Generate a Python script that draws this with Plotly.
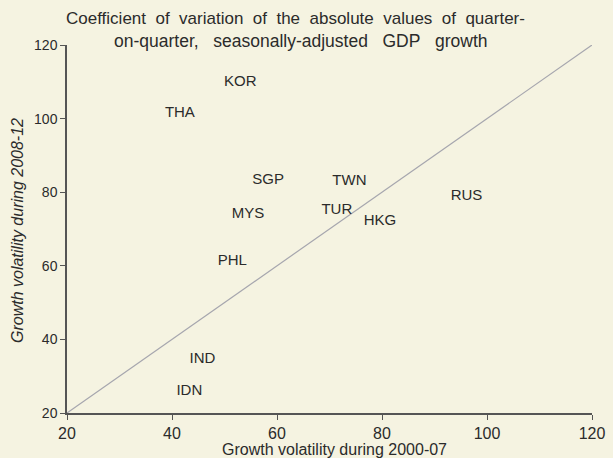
import plotly.graph_objects as go

countries = ["KOR", "THA", "SGP", "TWN", "RUS", "MYS", "TUR", "HKG", "PHL", "IND", "IDN"]
vol_2000_07 = [53.0, 41.5, 58.3, 73.8, 96.1, 54.5, 71.4, 79.6, 51.5, 45.8, 43.3]
vol_2008_12 = [110.0, 101.4, 83.2, 83.0, 79.0, 74.0, 75.2, 72.0, 61.2, 34.7, 25.9]
diag = [20, 120]
ticks = [20, 40, 60, 80, 100, 120]

title_line1 = "Coefficient of variation of the absolute values of quarter-"
title_line2 = "on-quarter, seasonally-adjusted GDP growth"
x_title = "Growth volatility during 2000-07"
y_title = "Growth volatility during 2008-12"

bg = "#f5f3e1"
txt = "#2b2b2b"
axc = "#555555"
FONT = "Arial, Liberation Sans, sans-serif"


def spaced(s, n):
    return ("&nbsp;" * (n - 1) + " ").join(s.split(" "))


fig = go.Figure()
fig.add_trace(go.Scatter(x=diag, y=diag, mode="lines",
                         line=dict(color="#a6a6ae", width=1.2), hoverinfo="skip"))
fig.add_trace(go.Scatter(x=vol_2000_07, y=vol_2008_12, mode="text", text=countries,
                         textposition="middle center",
                         textfont=dict(family=FONT, size=15, color=txt)))

axis_common = dict(range=[20, 120], tickvals=ticks, showgrid=False, zeroline=False,
                   showline=True, linecolor=axc, linewidth=1.5, ticks="outside",
                   ticklen=5, tickcolor=axc, tickwidth=1.2, automargin=False)

fig.update_layout(
    width=613, height=458,
    paper_bgcolor=bg, plot_bgcolor=bg,
    showlegend=False,
    margin=dict(l=67, r=21, t=45, b=45),
    font=dict(family=FONT, color=txt),
    xaxis=dict(**axis_common, tickfont=dict(family=FONT, size=16, color=txt)),
    yaxis=dict(**axis_common, tickfont=dict(family=FONT, size=14, color=txt)),
    annotations=[
        dict(text=spaced(title_line1, 2), xref="paper", yref="paper", x=0.436, y=1.0707,
             xanchor="center", yanchor="middle", showarrow=False,
             font=dict(family=FONT, size=17, color=txt)),
        dict(text=spaced(title_line2, 3), xref="paper", yref="paper", x=0.446, y=1.011,
             xanchor="center", yanchor="middle", showarrow=False,
             font=dict(family=FONT, size=17.5, color=txt)),
        dict(text=x_title, xref="paper", yref="paper", x=0.51, y=-0.1005,
             xanchor="center", yanchor="middle", showarrow=False,
             font=dict(family=FONT, size=16, color=txt)),
        dict(text="<i>" + y_title + "</i>", xref="paper", yref="paper", x=-0.093, y=0.495,
             xanchor="center", yanchor="middle", showarrow=False, textangle=-90,
             font=dict(family=FONT, size=16, color=txt)),
    ],
)

fig.write_html("out.html", config={"displayModeBar": False},
               post_script="document.body.style.margin='0';document.body.style.background='%s';" % bg)
